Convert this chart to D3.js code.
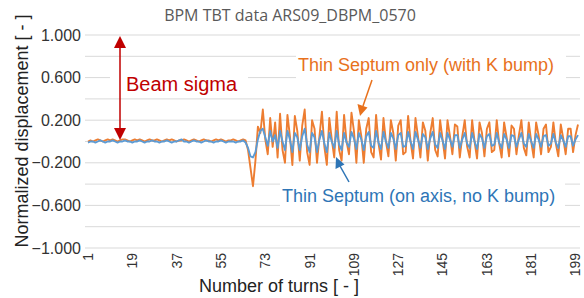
<!DOCTYPE html>
<html><head><meta charset="utf-8">
<script src="https://cdn.jsdelivr.net/npm/d3@7"></script>
<style>body{margin:0;background:#fff}svg{display:block}</style>
</head><body><svg id="c" width="584" height="298"></svg>
<script>
const title = "BPM TBT data ARS09_DBPM_0570";
const yTicks = [1.0, 0.6, 0.2, -0.2, -0.6, -1.0];
const yGrid = [1.0, 0.8, 0.6, 0.4, 0.2, 0.0, -0.2, -0.4, -0.6, -0.8, -1.0];
const xTickLabels = [1, 19, 37, 55, 73, 91, 109, 127, 145, 163, 181, 199];
const orange = [
 0.00,0.01,0.00,0.01,0.02,0.01,0.00,0.01,0.02,0.01,
 0.02,0.01,0.00,0.01,0.02,0.02,0.01,0.00,0.01,0.02,
 0.01,0.02,0.01,0.00,0.01,0.02,0.01,0.01,0.02,0.01,
 0.00,0.01,0.02,0.01,0.02,0.01,0.00,0.01,0.01,0.02,
 0.01,0.00,0.01,0.02,0.01,0.00,0.01,0.02,0.01,0.01,
 0.00,0.01,0.02,0.01,0.02,0.01,0.00,0.01,0.01,0.02,
 0.01,0.00,0.01,0.02,0.01,
 -0.08,-0.25,-0.42,-0.18,0.14,0.08,0.30,0.02,-0.12,0.22,
 -0.05,0.18,-0.15,0.26,-0.08,-0.20,0.25,0.05,-0.22,0.24,
 0.10,-0.18,0.15,0.30,-0.10,-0.22,0.20,0.12,-0.20,0.05,
 0.28,-0.05,-0.22,0.22,0.02,-0.15,0.28,-0.08,-0.18,0.25,
 0.00,-0.12,0.27,0.10,-0.20,0.20,0.05,-0.20,0.12,0.22,
 -0.10,-0.15,0.25,-0.02,-0.17,0.22,0.00,-0.14,0.20,0.08,
 -0.18,0.15,0.20,-0.12,-0.10,0.24,0.00,-0.16,0.22,0.05,
 -0.15,0.18,0.10,-0.18,0.08,0.22,-0.08,-0.14,0.20,0.02,
 -0.16,0.20,0.05,-0.12,0.16,0.14,-0.15,0.05,0.20,-0.05,
 -0.15,0.20,0.00,-0.16,0.18,0.08,-0.14,0.12,0.18,-0.10,
 -0.08,0.20,-0.02,-0.15,0.18,0.04,-0.14,0.15,0.12,-0.12,
 0.06,0.20,-0.06,-0.13,0.18,0.00,-0.15,0.18,0.06,-0.12,
 0.12,0.16,-0.10,-0.05,0.18,-0.02,-0.14,0.16,0.03,-0.12,
 0.12,0.12,-0.10,0.06,0.16
];
const blue = [
 -0.01,0.00,0.00,-0.01,0.00,0.01,0.00,-0.01,0.00,0.00,
 0.01,0.00,-0.01,0.00,0.00,0.01,0.00,0.00,-0.01,0.00,
 0.00,0.01,0.00,-0.01,0.00,0.00,0.01,0.00,0.00,-0.01,
 0.00,0.00,0.01,0.00,-0.01,0.00,0.00,0.01,0.02,0.00,
 0.00,-0.01,0.00,0.01,0.00,0.00,-0.01,0.00,0.01,0.00,
 0.00,-0.01,0.00,0.00,0.01,0.00,-0.01,0.00,0.00,0.00,
 -0.01,0.00,0.00,0.01,-0.01,
 -0.06,-0.14,-0.15,-0.10,0.02,0.10,0.12,0.04,-0.04,0.10,
 0.00,0.06,-0.06,0.10,0.00,-0.08,0.10,0.02,-0.10,0.08,
 0.04,-0.08,0.05,0.12,-0.03,-0.10,0.08,0.04,-0.10,0.02,
 0.10,-0.02,-0.10,0.08,0.00,-0.06,0.10,-0.03,-0.08,0.08,
 -0.01,-0.05,0.09,0.03,-0.07,0.08,0.02,-0.08,0.05,0.09,
 -0.04,-0.06,0.10,-0.01,-0.07,0.09,0.00,-0.06,0.08,0.03,
 -0.07,0.06,0.08,-0.05,-0.04,0.09,0.00,-0.07,0.09,0.02,
 -0.06,0.07,0.04,-0.07,0.03,0.09,-0.03,-0.06,0.08,0.01,
 -0.07,0.08,0.02,-0.05,0.06,0.06,-0.06,0.02,0.08,-0.02,
 -0.06,0.08,0.00,-0.07,0.07,0.03,-0.06,0.05,0.07,-0.04,
 -0.03,0.08,-0.01,-0.06,0.07,0.02,-0.06,0.06,0.05,-0.05,
 0.02,0.08,-0.02,-0.05,0.07,0.00,-0.06,0.07,0.02,-0.05,
 0.05,0.06,-0.04,-0.02,0.07,-0.01,-0.06,0.06,0.01,-0.05,
 0.05,0.05,-0.04,0.02,0.06
];
const turns = orange.map((d, i) => i + 1);

const svg = d3.select("#c");
const x = d3.scalePoint().domain(turns).range([88, 578]);
const y = d3.scaleLinear().domain([-1, 1]).range([248, 35]);
const gridX0 = 85, gridX1 = 580;

// gridlines
svg.append("g").selectAll("line").data(yGrid).join("line")
  .attr("x1", gridX0).attr("x2", gridX1)
  .attr("y1", d => y(d)).attr("y2", d => y(d))
  .attr("stroke", "#d9d9d9").attr("stroke-width", 1);

// y tick labels
svg.append("g").selectAll("text").data(yTicks).join("text")
  .attr("x", 81).attr("y", d => y(d)).attr("dy", "0.35em")
  .attr("text-anchor", "end")
  .attr("font-family", "Liberation Sans, Arial, sans-serif")
  .attr("font-size", 16).attr("fill", "#333")
  .text(d => d3.format(".3f")(d));

// x tick labels (rotated)
svg.append("g").selectAll("text").data(xTickLabels).join("text")
  .attr("transform", d => `translate(${x(d)},253) rotate(-90)`)
  .attr("dy", "0.35em")
  .attr("text-anchor", "end")
  .attr("font-family", "Liberation Sans, Arial, sans-serif")
  .attr("font-size", 14).attr("fill", "#333")
  .text(d => d);

// lines
const line = d3.line().x((d, i) => x(turns[i])).y(d => y(d));
svg.append("path").datum(orange).attr("d", line)
  .attr("fill", "none").attr("stroke", "#ed7d31").attr("stroke-width", 1.9)
  .attr("stroke-linejoin", "round");
svg.append("path").datum(blue).attr("d", line)
  .attr("fill", "none").attr("stroke", "#5b9bd5").attr("stroke-width", 1.9)
  .attr("stroke-linejoin", "round");

// title
svg.append("text").attr("x", 290).attr("y", 21).attr("text-anchor", "middle")
  .attr("font-family", "Open Sans, sans-serif").attr("font-size", 16)
  .attr("fill", "#595959").text(title);

// axis titles
svg.append("text").attr("x", 279).attr("y", 292).attr("text-anchor", "middle")
  .attr("font-family", "Liberation Sans, Arial, sans-serif").attr("font-size", 18)
  .attr("fill", "#222").text("Number of turns [ - ]");
svg.append("text").attr("transform", "translate(28,131) rotate(-90)")
  .attr("text-anchor", "middle")
  .attr("font-family", "Liberation Sans, Arial, sans-serif").attr("font-size", 18)
  .attr("fill", "#222").text("Normalized displacement [ - ]");

// annotation boxes (white fill over gridlines)
svg.append("rect").attr("x", 110).attr("y", 70).attr("width", 138).attr("height", 26).attr("fill", "#fff");
svg.append("rect").attr("x", 296).attr("y", 50).attr("width", 270).attr("height", 32).attr("fill", "#fff");
svg.append("rect").attr("x", 280).attr("y", 178).attr("width", 285).attr("height", 34).attr("fill", "#fff");

// Beam sigma double arrow
const red = "#c00000";
svg.append("line").attr("x1", 120).attr("x2", 120).attr("y1", 46).attr("y2", 130)
  .attr("stroke", red).attr("stroke-width", 1.5);
svg.append("path").attr("d", "M120,36 L114,48 L126,48 Z").attr("fill", red);
svg.append("path").attr("d", "M120,140 L114,128 L126,128 Z").attr("fill", red);
svg.append("text").attr("x", 126).attr("y", 91)
  .attr("font-family", "Liberation Sans, Arial, sans-serif").attr("font-size", 20)
  .attr("fill", red).text("Beam sigma");

// orange annotation
const oc = "#e8711c";
svg.append("text").attr("x", 298).attr("y", 71)
  .attr("font-family", "Liberation Sans, Arial, sans-serif").attr("font-size", 18)
  .attr("fill", oc).text("Thin Septum only (with K bump)");
svg.append("line").attr("x1", 372).attr("y1", 80).attr("x2", 363).attr("y2", 106)
  .attr("stroke", oc).attr("stroke-width", 1.5);
svg.append("path").attr("d", "M360,116 L357.5,104 L367.5,107.5 Z").attr("fill", oc);

// blue annotation
const bc = "#2e75b6";
svg.append("text").attr("x", 282).attr("y", 202)
  .attr("font-family", "Liberation Sans, Arial, sans-serif").attr("font-size", 18)
  .attr("fill", bc).text("Thin Septum (on axis, no K bump)");
svg.append("line").attr("x1", 349).attr("y1", 182).attr("x2", 340).attr("y2", 166)
  .attr("stroke", bc).attr("stroke-width", 1.5);
svg.append("path").attr("d", "M336,157 L335.5,169 L344.5,164.5 Z").attr("fill", bc);
</script></body></html>
